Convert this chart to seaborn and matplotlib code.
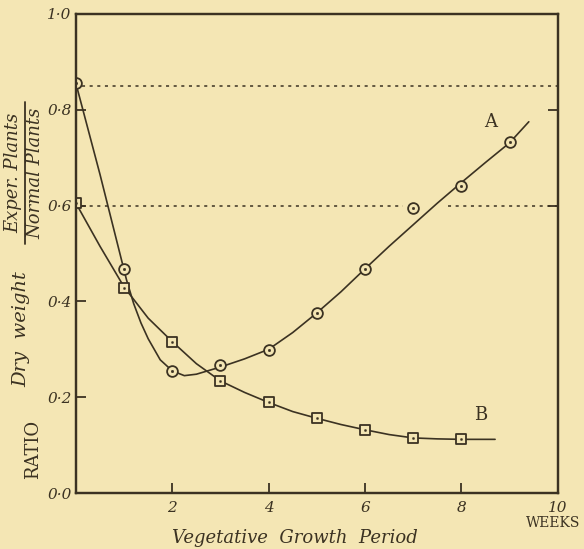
import numpy as np
import pandas as pd
import matplotlib.pyplot as plt
import seaborn as sns

# observed ratios (Exper. plants / Normal plants) by week
weeks = [0, 1, 2, 3, 4, 5, 6, 7, 8, 9]
ratio_a = [0.855, 0.467, 0.255, 0.267, 0.299, 0.376, 0.468, 0.596, 0.641, 0.733]
weeks_b = [0, 1, 2, 3, 4, 5, 6, 7, 8]
ratio_b = [0.605, 0.429, 0.316, 0.234, 0.189, 0.156, 0.132, 0.115, 0.113]

# hand-drawn fitted curves
curve_a_x = [0, 0.5, 0.9, 1.05, 1.2, 1.35, 1.5, 1.75, 2, 2.25, 2.5, 3, 3.5, 4, 4.5, 5, 5.5, 6, 6.5, 7, 7.5, 8, 8.5, 9, 9.4]
curve_a_y = [0.855, 0.665, 0.505, 0.445, 0.395, 0.355, 0.322, 0.278, 0.255, 0.245, 0.248, 0.263, 0.28, 0.30, 0.335, 0.376, 0.42, 0.468, 0.515, 0.56, 0.605, 0.648, 0.69, 0.731, 0.775]
curve_b_x = [0, 0.5, 1, 1.5, 2, 2.5, 3, 3.5, 4, 4.5, 5, 5.5, 6, 6.5, 7, 7.5, 8, 8.7]
curve_b_y = [0.605, 0.515, 0.43, 0.365, 0.316, 0.27, 0.234, 0.21, 0.189, 0.17, 0.156, 0.143, 0.132, 0.122, 0.115, 0.113, 0.112, 0.112]

ref_levels = [0.85, 0.6]

y_ticks = [0.0, 0.2, 0.4, 0.6, 0.8, 1.0]
y_tick_labels = ["0·0", "0·2", "0·4", "0·6", "0·8", "1·0"]
x_ticks = [2, 4, 6, 8, 10]
x_tick_labels = ["2", "4", "6", "8", "10"]

paper = "#f4e6b4"
ink = "#3b3222"

sns.set_style("ticks")
plt.rcParams["font.family"] = ["DejaVu Serif"]

fig = plt.figure(figsize=(5.84, 5.49), dpi=100, facecolor=paper)
ax = fig.add_axes([0.130, 0.102, 0.825, 0.8725])
ax.set_facecolor(paper)

ca = pd.DataFrame({"x": curve_a_x, "y": curve_a_y})
cb = pd.DataFrame({"x": curve_b_x, "y": curve_b_y})
sns.lineplot(data=ca, x="x", y="y", ax=ax, color=ink, lw=1.2, sort=False)
sns.lineplot(data=cb, x="x", y="y", ax=ax, color=ink, lw=1.2, sort=False)

# reference dotted lines
ax.hlines(ref_levels[0], 0.12, 10, colors=ink, linestyles=(0, (2, 3)), lw=1.1)
ax.hlines(ref_levels[1], 0.12, 6.78, colors=ink, linestyles=(0, (2, 3)), lw=1.1)
ax.hlines(ref_levels[1], 7.72, 10, colors=ink, linestyles=(0, (2, 3)), lw=1.1)

pa = pd.DataFrame({"x": weeks, "y": ratio_a})
pb = pd.DataFrame({"x": weeks_b, "y": ratio_b})
sns.scatterplot(data=pa, x="x", y="y", ax=ax, marker="o", s=60, facecolor=paper,
                edgecolor=ink, linewidth=1.3, zorder=5)
sns.scatterplot(data=pa, x="x", y="y", ax=ax, marker="o", s=4, color=ink,
                edgecolor=ink, zorder=6)
sns.scatterplot(data=pb, x="x", y="y", ax=ax, marker="s", s=45, facecolor=paper,
                edgecolor=ink, linewidth=1.3, zorder=5)
sns.scatterplot(data=pb, x="x", y="y", ax=ax, marker="o", s=3, color=ink,
                edgecolor=ink, zorder=6)

ax.text(8.6, 0.775, "A", fontsize=13, color=ink, ha="center", va="center")
ax.text(8.4, 0.163, "B", fontsize=13, color=ink, ha="center", va="center")

ax.set_xlim(0, 10)
ax.set_ylim(0, 1.0)
ax.set_xticks(x_ticks)
ax.set_xticklabels(x_tick_labels, fontsize=11, style="italic", color=ink)
ax.set_yticks(y_ticks)
ax.set_yticklabels(y_tick_labels, fontsize=11, style="italic", color=ink)
ax.tick_params(direction="in", length=7, width=1.3, color=ink, pad=3)
ax.tick_params(axis="x", pad=6)
for t in ax.yaxis.get_major_ticks():
    if t.get_loc() in (0.0, 1.0):
        t.tick1line.set_visible(False)
for t in ax.xaxis.get_major_ticks():
    if t.get_loc() == 10:
        t.tick1line.set_visible(False)

# inward ticks on the right frame at the two reference levels
ax2 = ax.twinx()
ax2.set_ylim(0, 1.0)
ax2.set_yticks([0.6, 0.8])
ax2.set_yticklabels([])
ax2.tick_params(direction="in", length=7, width=1.3, color=ink)

for a in (ax, ax2):
    for sp in a.spines.values():
        sp.set_visible(True)
        sp.set_color(ink)
        sp.set_linewidth(1.6)

ax.set_xlabel("")
ax.set_ylabel("")
fig.text(0.505, 0.02, "Vegetative  Growth  Period", fontsize=13, style="italic",
         color=ink, ha="center", va="center")
fig.text(0.994, 0.047, "WEEKS", fontsize=10, color=ink, ha="right", va="center")
fig.text(0.057, 0.182, "RATIO", fontsize=13, color=ink, ha="center", va="center",
         rotation=90)
fig.text(0.036, 0.40, "Dry  weight", fontsize=14, style="italic", color=ink,
         ha="center", va="center", rotation=90)
fig.text(0.022, 0.685, "Exper. Plants", fontsize=13, style="italic", color=ink,
         ha="center", va="center", rotation=90)
fig.text(0.060, 0.685, "Normal Plants", fontsize=13, style="italic", color=ink,
         ha="center", va="center", rotation=90)
fig.add_artist(plt.Line2D([0.042, 0.042], [0.555, 0.815], color=ink, lw=1.3,
                          transform=fig.transFigure))

fig.savefig("out.png", dpi=100, facecolor=paper)
